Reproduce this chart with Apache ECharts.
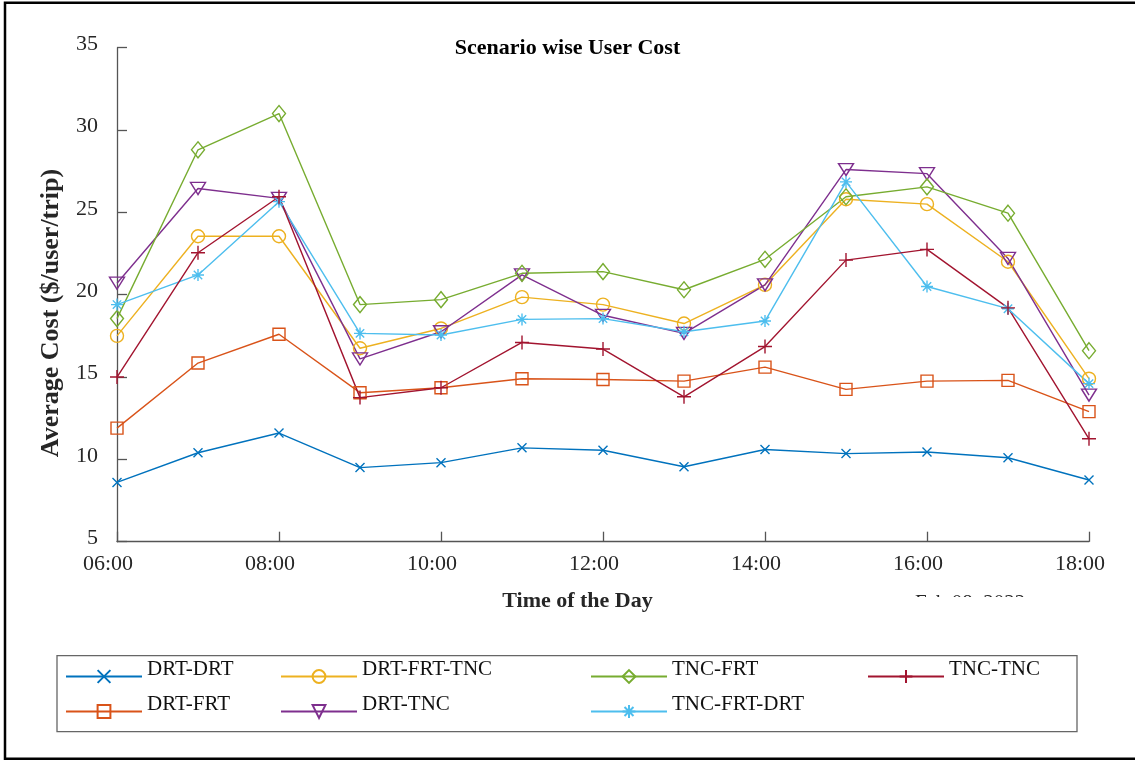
<!DOCTYPE html>
<html>
<head>
<meta charset="utf-8">
<title>Scenario wise User Cost</title>
<script src="https://cdn.jsdelivr.net/npm/echarts@6/dist/echarts.min.js"></script>
<style>
  html, body { margin: 0; padding: 0; background: #fff; }
  #chart { width: 1135px; height: 761px; }
</style>
</head>
<body>
<div id="chart"></div>
<script>
// Hourly time slots (x axis)
const hours = ['06:00', '07:00', '08:00', '09:00', '10:00', '11:00', '12:00',
               '13:00', '14:00', '15:00', '16:00', '17:00', '18:00'];

// Average user cost per scenario ($/user/trip)
const drtDrt    = [8.6, 10.4, 11.6, 9.5, 9.8, 10.7, 10.55, 9.55, 10.6, 10.35, 10.45, 10.1, 8.75];
const drtFrt    = [11.9, 15.85, 17.6, 14.05, 14.35, 14.9, 14.85, 14.75, 15.6, 14.25, 14.75, 14.8, 12.9];
const drtFrtTnc = [17.5, 23.55, 23.55, 16.75, 17.95, 19.85, 19.4, 18.25, 20.6, 25.8, 25.5, 22.0, 14.9];
const drtTnc    = [20.7, 26.45, 25.85, 16.1, 17.75, 21.2, 18.75, 17.65, 20.6, 27.6, 27.35, 22.2, 13.9];
const tncFrt    = [18.55, 28.8, 31.0, 19.4, 19.7, 21.3, 21.4, 20.3, 22.15, 25.95, 26.55, 24.95, 16.6];
const tncFrtDrt = [19.4, 21.2, 25.65, 17.65, 17.55, 18.5, 18.55, 17.75, 18.4, 26.85, 20.5, 19.15, 14.6];
const tncTnc    = [15.0, 22.55, 25.95, 13.75, 14.35, 17.1, 16.7, 13.8, 16.85, 22.1, 22.75, 19.2, 11.25];

const seriesNames = ['DRT-DRT', 'DRT-FRT', 'DRT-FRT-TNC', 'DRT-TNC', 'TNC-FRT', 'TNC-FRT-DRT', 'TNC-TNC'];
const seriesData  = [drtDrt, drtFrt, drtFrtTnc, drtTnc, tncFrt, tncFrtDrt, tncTnc];

const yTicks = { min: 5, max: 35, step: 5 };

const colors = ['#0072BD', '#D95319', '#EDB120', '#7E2F8E', '#77AC30', '#4DBEEE', '#A2142F'];
const markers = [
  { symbol: 'path://M0,0L10,10M10,0L0,10', size: 9, rotate: 0 },
  { symbol: 'rect', size: 12, rotate: 0 },
  { symbol: 'circle', size: 13, rotate: 0 },
  { symbol: 'triangle', size: [15, 12], rotate: 180 },
  { symbol: 'diamond', size: [13, 16], rotate: 0 },
  { symbol: 'path://M5,0L5,10M0,5L10,5M1.5,1.5L8.5,8.5M8.5,1.5L1.5,8.5', size: 12, rotate: 0 },
  { symbol: 'path://M5,0L5,10M0,5L10,5', size: 14, rotate: 0 }
];

const serif = "'Liberation Serif', 'Times New Roman', serif";
const axisGray = '#555555';

// Legend layout: two rows, filled column by column.
// The label sits a little above its sample line (trailing empty line lifts it).
const legendCols = [65, 280, 590, 867];
const legendRows = [659, 694];
const legends = seriesNames.map(function (name, i) {
  const col = Math.floor(i / 2);
  const row = i % 2;
  return {
    data: [name],
    left: legendCols[col],
    top: legendRows[row],
    padding: 0,
    itemWidth: 76,
    itemHeight: 16,
    selectedMode: false,
    formatter: function (n) { return n + '\n'; },
    textStyle: { fontFamily: serif, fontSize: 21, lineHeight: 14, color: '#111' }
  };
});

const series = seriesNames.map(function (name, i) {
  return {
    name: name,
    type: 'line',
    data: seriesData[i],
    symbol: markers[i].symbol,
    symbolSize: markers[i].size,
    symbolRotate: markers[i].rotate,
    showAllSymbol: true,
    clip: false,
    lineStyle: { color: colors[i], width: 1.4 },
    itemStyle: { color: 'rgba(255,255,255,0)', borderColor: colors[i], borderWidth: 1.4 },
    emphasis: { disabled: true }
  };
});

const chart = echarts.init(document.getElementById('chart'), null, { renderer: 'canvas' });
chart.setOption({
  animation: false,
  backgroundColor: '#ffffff',
  title: {
    text: 'Scenario wise User Cost',
    left: 'center',
    top: 37,
    padding: 0,
    textStyle: { fontFamily: serif, fontSize: 22, fontWeight: 'bold', color: '#000' }
  },
  legend: legends,
  grid: { left: 117, right: 46, top: 47.7, bottom: 219.3, containLabel: false },
  xAxis: {
    type: 'category',
    data: hours,
    boundaryGap: false,
    axisLine: { lineStyle: { color: axisGray, width: 1.3 } },
    axisTick: { inside: true, length: 10, interval: 1, lineStyle: { color: axisGray, width: 1.3 } },
    axisLabel: { interval: 1, margin: 12, padding: [0, 18, 0, 0], fontFamily: serif, fontSize: 22, color: '#262626' },
    splitLine: { show: false },
    name: 'Time of the Day',
    nameLocation: 'middle',
    nameGap: 49,
    nameTextStyle: { fontFamily: serif, fontSize: 22, fontWeight: 'bold', color: '#262626', padding: [0, 51, 0, 0] }
  },
  yAxis: {
    type: 'value',
    min: yTicks.min,
    max: yTicks.max,
    interval: yTicks.step,
    axisLine: { show: true, lineStyle: { color: axisGray, width: 1.3 } },
    axisTick: { show: true, inside: true, length: 10, lineStyle: { color: axisGray, width: 1.3 } },
    axisLabel: { margin: 19, verticalAlign: 'bottom', lineHeight: 7, fontFamily: serif, fontSize: 22, color: '#262626' },
    splitLine: { show: false }
  },
  graphic: [
    {
      type: 'text',
      x: 51,
      y: 313,
      rotation: Math.PI / 2,
      style: {
        text: 'Average Cost ($/user/trip)',
        textAlign: 'center',
        textVerticalAlign: 'middle',
        font: 'bold 26px ' + serif,
        fill: '#262626'
      }
    },
    {
      type: 'text',
      x: 970,
      y: 593,
      style: {
        text: 'Feb 08, 2022',
        textAlign: 'center',
        textVerticalAlign: 'top',
        font: '21px ' + serif,
        fill: '#262626'
      }
    },
    {
      type: 'rect',
      shape: { x: 900, y: 597, width: 140, height: 30 },
      style: { fill: '#ffffff' },
      z: 10
    },
    {
      type: 'rect',
      shape: { x: 57, y: 655.7, width: 1020, height: 76 },
      style: { fill: 'none', stroke: '#666666', lineWidth: 1.3 },
      z: -1
    },
    {
      type: 'rect',
      shape: { x: 5, y: 2.8, width: 1200, height: 756 },
      style: { fill: 'none', stroke: '#000000', lineWidth: 2.5 }
    }
  ],
  series: series
});
</script>
</body>
</html>
